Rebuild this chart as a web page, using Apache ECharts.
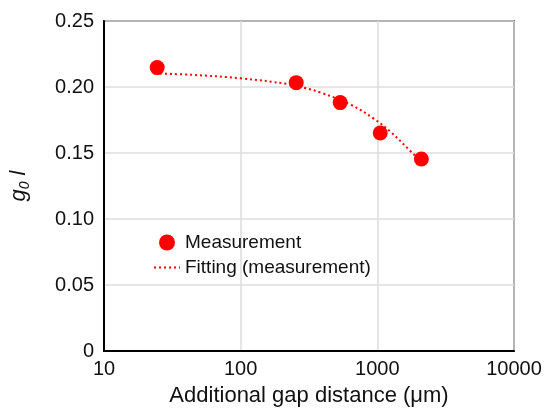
<!DOCTYPE html>
<html>
<head>
<meta charset="utf-8">
<script src="https://cdn.jsdelivr.net/npm/echarts@6/dist/echarts.min.js"></script>
<style>
  html, body { margin: 0; padding: 0; background: #fff; }
  #chart { width: 547px; height: 413px; }
</style>
</head>
<body>
<div id="chart"></div>
<script>
// Measured g0·l versus additional gap distance (µm)
const measGap = [24.5, 255, 535, 1050, 2100];
const measG0l = [0.2147, 0.2033, 0.1882, 0.1652, 0.1455];

// Fitted curve through the measurements
const fitGap = [25.7, 43.9, 100, 223, 291, 387, 639, 924, 1250, 1689, 2000];
const fitG0l = [0.2102, 0.2092, 0.2066, 0.2022, 0.1995, 0.1957, 0.1866, 0.1766, 0.1660, 0.1530, 0.1455];

// Axis tick labels
const xTickValues = [10, 100, 1000, 10000];
const xTickLabels = ['10', '100', '1000', '10000'];
const yTickValues = [0, 0.05, 0.10, 0.15, 0.20, 0.25];
const yTickLabels = ['0', '0.05', '0.10', '0.15', '0.20', '0.25'];

const FONT = '"Liberation Sans", Arial, Helvetica, sans-serif';
const RED = '#ff0000';

function labelFor(values, labels) {
  return function (v) {
    const i = values.findIndex(t => Math.abs(t - v) < 1e-9 * Math.max(1, Math.abs(t)));
    return i >= 0 ? labels[i] : '';
  };
}

const chart = echarts.init(document.getElementById('chart'), null, { renderer: 'canvas' });

chart.setOption({
  animation: false,
  backgroundColor: '#fff',
  textStyle: { fontFamily: FONT, color: '#111' },
  grid: {
    left: 102, right: 33, top: 21, bottom: 62,
    show: true, borderColor: '#000', borderWidth: 1.5,
    backgroundColor: 'transparent'
  },
  legend: {
    orient: 'vertical',
    left: 148, top: 228,
    itemWidth: 26, itemHeight: 16, itemGap: 6,
    textStyle: { fontFamily: FONT, fontSize: 19, color: '#111' },
    data: [
      { name: 'Measurement', icon: 'circle' },
      { name: 'Fitting (measurement)', itemStyle: { opacity: 0 } }
    ]
  },
  xAxis: {
    type: 'log', logBase: 10, min: 10, max: 10000,
    name: 'Additional gap distance (\u03bcm)',
    nameLocation: 'middle', nameGap: 34,
    nameTextStyle: { fontFamily: FONT, fontSize: 22, color: '#111' },
    axisLine: { show: true, onZero: false, lineStyle: { color: '#000', width: 2 } },
    axisTick: { show: false },
    minorTick: { show: false },
    axisLabel: {
      fontFamily: FONT, fontSize: 20, color: '#111', margin: 8,
      formatter: labelFor(xTickValues, xTickLabels)
    },
    splitLine: { show: true, lineStyle: { color: '#dcdcdc', width: 1.5 } }
  },
  yAxis: {
    type: 'value', min: 0, max: 0.25, interval: 0.05,
    name: '{a|g}{b|0}{a| l}',
    nameLocation: 'middle', nameGap: 72,
    nameTextStyle: {
      rich: {
        a: { fontFamily: FONT, fontSize: 22, fontStyle: 'italic', color: '#111', lineHeight: 26 },
        b: { fontFamily: FONT, fontSize: 14, fontStyle: 'italic', color: '#111', lineHeight: 14, verticalAlign: 'bottom' }
      }
    },
    axisLine: { show: true, lineStyle: { color: '#000', width: 2 } },
    axisTick: { show: false },
    axisLabel: {
      fontFamily: FONT, fontSize: 20, color: '#111', margin: 10,
      formatter: labelFor(yTickValues, yTickLabels)
    },
    splitLine: { show: true, lineStyle: { color: '#dcdcdc', width: 1.5 } }
  },
  series: [
    {
      name: 'Fitting (measurement)',
      type: 'line',
      smooth: 0.4,
      symbol: 'none',
      showSymbol: false,
      z: 2,
      itemStyle: { color: RED },
      lineStyle: { color: RED, width: 2, type: [2, 3] },
      data: fitGap.map((x, i) => [x, fitG0l[i]])
    },
    {
      name: 'Measurement',
      type: 'scatter',
      symbol: 'circle',
      symbolSize: 15,
      z: 3,
      itemStyle: { color: RED, opacity: 1 },
      data: measGap.map((x, i) => [x, measG0l[i]])
    }
  ]
});
</script>
</body>
</html>
